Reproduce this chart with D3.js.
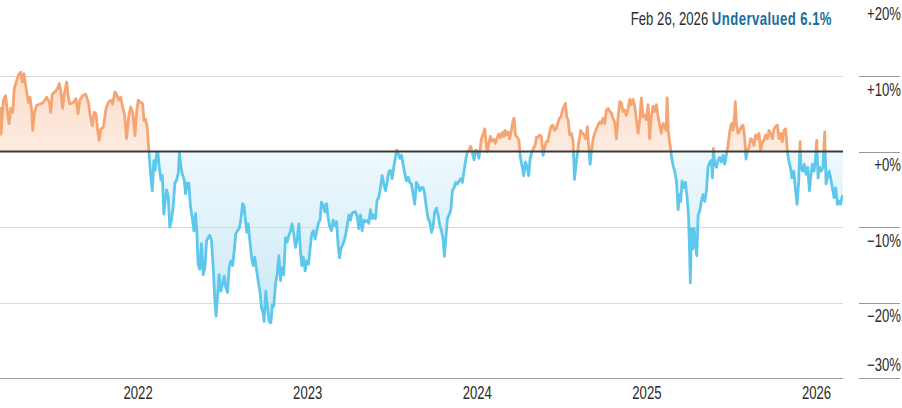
<!DOCTYPE html>
<html><head><meta charset="utf-8">
<script src="https://cdn.jsdelivr.net/npm/d3@7"></script>
<style>
html,body{margin:0;padding:0;background:#fff;}
svg{display:block;}
text{font-family:"Liberation Sans",Arial,sans-serif;}
</style></head><body>
<svg id="chart" width="902" height="408"></svg>
<script>
// decimal-year dates of each observation
const dates = [
2021.186,2021.192,2021.206,2021.219,2021.229,2021.239,2021.249,2021.261,2021.270,2021.284,2021.298,2021.308,2021.318,2021.327,2021.339,2021.353,2021.363,2021.373,2021.379,2021.388,2021.402,2021.422,2021.441,2021.461,2021.477,2021.485,2021.494,2021.510,2021.524,2021.536,2021.545,2021.555,2021.565,2021.579,2021.589,2021.598,2021.618,2021.634,2021.646,2021.657,2021.673,2021.691,2021.707,2021.716,2021.730,2021.742,2021.752,2021.762,2021.771,2021.781,2021.795,2021.811,2021.824,2021.838,2021.850,2021.864,2021.873,2021.885,2021.897,2021.909,2021.921,2021.932,2021.944,2021.956,2021.968,2021.982,2021.991,2022.001,2022.015,2022.027,2022.035,2022.044,2022.054,2022.064,2022.074,2022.084,2022.093,2022.101,2022.109,2022.117,2022.125,2022.135,2022.143,2022.152,
2022.158,2022.168,2022.178,2022.187,2022.197,2022.207,2022.217,2022.227,2022.237,2022.244,2022.252,2022.260,2022.272,2022.280,2022.290,2022.299,2022.309,2022.319,2022.329,2022.339,2022.347,2022.354,2022.364,2022.374,2022.384,2022.394,2022.404,2022.413,2022.423,2022.433,2022.443,2022.453,2022.460,2022.468,2022.478,2022.488,2022.498,2022.508,2022.517,2022.527,2022.537,2022.547,2022.557,2022.567,2022.576,2022.586,2022.596,2022.606,2022.616,2022.624,2022.633,2022.641,2022.649,2022.659,2022.669,2022.679,2022.688,2022.698,2022.708,2022.718,2022.728,2022.737,2022.743,2022.753,2022.763,2022.773,2022.783,2022.791,2022.800,2022.810,2022.820,2022.830,2022.840,2022.849,2022.859,2022.869,2022.879,2022.889,2022.899,2022.908,2022.918,2022.928,2022.938,2022.948,2022.957,2022.965,2022.975,2022.985,2022.995,2023.005,2023.014,2023.024,2023.034,2023.044,2023.054,2023.064,2023.073,2023.081,2023.091,2023.101,2023.111,2023.120,2023.130,2023.140,2023.150,
2023.160,2023.170,2023.180,2023.188,2023.195,2023.203,2023.213,2023.223,2023.233,2023.243,2023.252,2023.262,2023.272,2023.282,2023.292,2023.301,2023.311,2023.321,2023.331,2023.341,2023.351,2023.360,2023.370,2023.380,2023.390,2023.400,2023.409,2023.419,2023.429,2023.439,2023.449,2023.459,2023.468,2023.478,2023.488,2023.498,2023.508,2023.518,2023.525,2023.533,2023.543,2023.553,2023.563,2023.573,2023.582,2023.592,2023.602,2023.612,2023.622,2023.631,2023.641,2023.651,2023.661,2023.671,2023.681,2023.690,2023.700,2023.710,2023.720,2023.730,2023.739,2023.749,2023.759,2023.769,2023.779,2023.789,2023.798,2023.806,2023.814,2023.824,2023.834,2023.844,2023.853,2023.863,2023.873,2023.883,2023.893,2023.903,2023.912,2023.922,2023.932,2023.942,2023.952,2023.961,2023.971,2023.981,2023.991,2024.001,2024.009,2024.016,2024.024,2024.034,2024.044,2024.054,2024.060,2024.068,2024.077,2024.087,2024.097,2024.107,2024.117,2024.126,2024.136,2024.146,2024.156,
2024.162,2024.172,2024.182,2024.191,2024.201,2024.211,2024.217,2024.225,2024.235,2024.245,2024.254,2024.264,2024.274,2024.284,2024.294,2024.303,2024.311,2024.321,2024.331,2024.341,2024.349,2024.358,2024.368,2024.378,2024.388,2024.396,2024.406,2024.415,2024.425,2024.435,2024.445,2024.455,2024.464,2024.474,2024.484,2024.494,2024.502,2024.512,2024.520,2024.527,2024.535,2024.545,2024.555,2024.565,2024.573,2024.580,2024.590,2024.600,2024.610,2024.620,2024.630,2024.639,2024.649,2024.657,2024.665,2024.673,2024.683,2024.692,2024.702,2024.712,2024.722,2024.732,2024.741,2024.751,2024.761,2024.771,2024.781,2024.791,2024.800,2024.810,2024.820,2024.830,2024.840,2024.850,2024.859,2024.869,2024.879,2024.889,2024.899,2024.908,2024.918,2024.928,2024.938,2024.948,2024.958,2024.967,2024.977,2024.987,2024.997,2025.007,2025.016,2025.026,2025.036,2025.046,2025.056,2025.066,2025.075,2025.085,2025.095,2025.105,2025.113,2025.119,2025.126,2025.134,2025.144,2025.154,
2025.164,2025.174,2025.184,2025.192,2025.199,2025.207,2025.217,2025.227,2025.237,2025.245,2025.250,2025.256,2025.262,2025.270,2025.278,2025.286,2025.294,2025.302,2025.311,2025.321,2025.331,2025.341,2025.351,2025.360,2025.370,2025.380,2025.386,2025.392,2025.400,2025.410,2025.419,2025.429,2025.439,2025.449,2025.459,2025.468,2025.478,2025.488,2025.498,2025.508,2025.518,2025.521,2025.527,2025.537,2025.547,2025.557,2025.567,2025.576,2025.584,2025.592,2025.602,2025.612,2025.622,2025.631,2025.641,2025.651,2025.661,2025.671,2025.681,2025.690,2025.700,2025.710,2025.720,2025.730,2025.740,2025.749,2025.759,2025.769,2025.779,2025.789,2025.798,2025.808,2025.818,2025.828,2025.836,2025.846,2025.855,2025.865,2025.875,2025.885,2025.895,2025.903,2025.908,2025.918,2025.928,2025.938,2025.948,2025.958,2025.965,2025.975,2025.985,2025.993,2026.001,2026.009,2026.018,2026.028,2026.038,2026.048,2026.056,2026.064,2026.074,2026.083,2026.093,2026.103,2026.113,2026.123,2026.132,2026.142,2026.150,2026.156
];
// price vs fair value, percent (positive = overvalued)
const values = [
5.9,2.3,6.8,7.4,5.4,3.7,5.7,5.2,8.3,9.4,10.3,10.5,9.2,10.3,8.5,6.5,7.2,5.4,2.8,5.0,6.1,6.3,6.5,7.2,6.5,5.2,7.6,7.9,8.3,9.0,7.9,5.7,7.6,9.2,7.2,6.3,6.5,7.0,5.0,6.8,7.4,7.6,6.5,5.0,3.4,5.2,5.0,2.8,1.5,3.0,3.2,5.7,6.5,6.8,6.3,7.9,7.6,6.8,7.2,5.9,4.8,1.7,4.5,5.9,5.2,2.1,5.2,6.8,6.5,6.3,4.1,4.3,3.2,0,-3.0,-5.2,-1.2,-2.5,-0.3,-0.1,-2.1,-3.8,-3.2,-8.3,
-6.9,-5.1,-6.0,-10.0,-9.1,-7.3,-4.2,-3.8,-2.9,-0.2,-2.0,-2.9,-3.8,-5.6,-4.2,-4.2,-7.3,-8.7,-10.5,-8.2,-10.9,-14.9,-15.6,-12.2,-16.3,-15.4,-11.8,-11.4,-11.1,-11.8,-15.4,-19.8,-21.8,-19.4,-16.3,-18.5,-17.6,-16.5,-18.0,-18.7,-15.4,-14.5,-15.1,-13.1,-10.9,-10.5,-10.2,-9.1,-6.9,-7.1,-9.1,-10.7,-9.6,-11.8,-14.0,-15.1,-14.0,-15.6,-17.1,-18.5,-20.7,-21.4,-22.5,-18.5,-20.7,-22.5,-22.7,-20.3,-20.5,-17.6,-16.3,-13.8,-17.1,-15.4,-16.3,-11.4,-12.0,-11.1,-10.5,-9.6,-10.9,-12.7,-11.6,-9.6,-13.1,-15.1,-14.0,-15.8,-14.5,-14.9,-12.9,-10.9,-10.5,-11.6,-10.5,-9.4,-9.1,-6.7,-7.1,-8.0,-6.9,-8.7,-10.0,-10.5,-9.1,
-9.8,-9.3,-12.5,-14.1,-13.0,-12.5,-12.0,-11.1,-9.8,-8.4,-9.1,-8.2,-8.0,-8.0,-8.6,-10.2,-8.4,-10.5,-9.1,-9.3,-9.1,-9.5,-7.7,-8.9,-8.4,-8.9,-6.4,-6.1,-4.8,-3.2,-4.3,-5.2,-4.1,-2.7,-2.5,-3.6,-2.0,-0.7,0.2,-0.2,-0.9,-0.5,-1.8,-3.0,-3.9,-3.4,-4.1,-4.3,-5.7,-7.0,-4.1,-4.5,-5.2,-4.8,-4.8,-5.7,-7.5,-8.9,-9.3,-10.7,-10.0,-8.0,-7.5,-8.4,-9.8,-10.5,-11.6,-13.9,-11.6,-8.9,-8.4,-7.7,-5.2,-4.8,-4.1,-4.3,-3.9,-3.6,-4.1,-2.5,-1.1,0,0.2,0.7,-0.2,-1.1,0.2,0,-0.9,0.2,1.6,2.3,3.0,0.7,0,1.1,2.0,1.4,1.6,1.1,1.8,2.3,1.8,2.5,2.0,
2.8,2.2,2.6,1.7,2.8,4.2,4.4,2.2,1.9,1.5,-0.8,-1.9,-3.2,-1.4,-2.1,-3.2,-1.0,-0.1,0.4,0.8,1.9,1.9,2.2,1.9,-0.5,0.4,1.3,1.3,2.4,3.3,3.5,2.8,3.0,3.7,4.4,4.6,5.5,6.0,6.4,4.6,4.2,2.2,2.4,1.3,-3.7,-2.1,-0.3,1.5,2.8,2.4,2.2,1.7,3.3,0.6,-1.7,0.1,1.7,2.4,3.0,3.5,3.9,3.7,4.4,3.7,5.5,5.7,5.3,5.1,4.4,3.9,1.7,4.6,6.6,6.4,5.3,5.5,4.8,5.7,6.9,6.2,6.9,6.0,4.2,2.4,4.2,7.1,4.6,4.8,4.2,6.2,1.7,4.6,6.0,5.3,6.2,4.6,3.5,2.4,3.7,3.3,2.8,7.1,2.8,1.3,-0.5,-1.9,
-2.6,-3.9,-7.7,-5.7,-6.6,-3.9,-4.8,-4.1,-6.1,-8.4,-12.0,-17.4,-10.2,-12.9,-10.2,-12.4,-13.8,-8.4,-7.9,-6.6,-5.7,-6.6,-5.2,-2.1,-1.4,-1.2,-3.5,0.4,-1.7,-2.1,-1.2,-0.8,-1.4,-0.5,-1.7,-0.5,0.8,2.6,3.7,2.8,5.1,6.6,3.7,2.4,2.8,3.3,3.5,1.9,-1.0,0.1,0.6,1.7,1.5,0.8,2.2,1.7,2.4,0.1,1.3,1.5,2.2,1.7,2.8,2.4,1.7,3.0,3.3,3.5,1.7,2.4,1.3,2.8,3.0,0.1,-1.2,-2.1,-3.5,-2.6,-4.8,-7.0,-3.9,1.3,-2.1,-2.6,-1.7,-3.0,-2.1,-5.2,-3.5,-1.7,-2.6,-1.2,1.5,-3.5,-2.1,-2.6,-2.1,2.6,-4.3,-3.5,-2.6,-3.5,-4.8,-6.1,-4.8,-7.0,-6.6,-7.0,-6.1,-5.8
];
const yearTicks = [2022, 2023, 2024, 2025, 2026];
const pctTicks = [20, 10, 0, -10, -20, -30];
const pctLabels = ["+20%", "+10%", "+0%", "\u221210%", "\u221220%", "\u221230%"];
const gridValues = [10, -10, -20];
const headerDate = "Feb 26, 2026 ";
const headerStatus = "Undervalued 6.1%";

const n = Math.min(dates.length, values.length);
const data = d3.range(n).map(i => ({t: dates[i], v: values[i]}));

const svg = d3.select("#chart");
const plotRight = 843, plotBottom = 378;
const x = d3.scaleLinear().domain([dates[0], dates[n - 1]]).range([0, plotRight]);
const y = d3.scaleLinear().domain([-30, 20]).range([plotBottom, 0.5]);
const y0 = y(0);
const squeeze = 0.73; // condensed type

const defs = svg.append("defs");
defs.append("clipPath").attr("id", "above").append("rect")
  .attr("x", 0).attr("y", 0).attr("width", plotRight).attr("height", y0);
defs.append("clipPath").attr("id", "below").append("rect")
  .attr("x", 0).attr("y", y0).attr("width", plotRight).attr("height", plotBottom - y0);

const gBlue = defs.append("linearGradient").attr("id", "gBlue")
  .attr("gradientUnits", "userSpaceOnUse").attr("x1", 0).attr("x2", 0)
  .attr("y1", y0).attr("y2", y(-23));
gBlue.append("stop").attr("offset", 0).attr("stop-color", "#eef9fd");
gBlue.append("stop").attr("offset", 1).attr("stop-color", "#c9e8f5");
const gOrange = defs.append("linearGradient").attr("id", "gOrange")
  .attr("gradientUnits", "userSpaceOnUse").attr("x1", 0).attr("x2", 0)
  .attr("y1", y0).attr("y2", y(11));
gOrange.append("stop").attr("offset", 0).attr("stop-color", "#fdebe0");
gOrange.append("stop").attr("offset", 1).attr("stop-color", "#fbdcc8");

const area = d3.area().x(d => x(d.t)).y0(y0).y1(d => y(d.v));
const line = d3.line().x(d => x(d.t)).y(d => y(d.v));

svg.append("path").datum(data).attr("d", area).attr("fill", "url(#gOrange)").attr("clip-path", "url(#above)");
svg.append("path").datum(data).attr("d", area).attr("fill", "url(#gBlue)").attr("clip-path", "url(#below)");

// gridlines
svg.append("g").selectAll("line").data(gridValues).join("line")
  .attr("x1", 0).attr("x2", plotRight)
  .attr("y1", d => Math.round(y(d)) + 0.5).attr("y2", d => Math.round(y(d)) + 0.5)
  .attr("stroke", "#d9d9d9").attr("stroke-width", 1);

// bottom axis line
svg.append("line").attr("x1", 0).attr("x2", plotRight)
  .attr("y1", Math.round(plotBottom) + 0.5).attr("y2", Math.round(plotBottom) + 0.5)
  .attr("stroke", "#9a9a9a").attr("stroke-width", 1);

// series lines
svg.append("path").datum(data).attr("d", line).attr("fill", "none")
  .attr("stroke", "#f4a571").attr("stroke-width", 2.8).attr("stroke-linejoin", "round")
  .attr("clip-path", "url(#above)");
svg.append("path").datum(data).attr("d", line).attr("fill", "none")
  .attr("stroke", "#5ec8ec").attr("stroke-width", 2.8).attr("stroke-linejoin", "round")
  .attr("clip-path", "url(#below)");

// zero line
svg.append("line").attr("x1", 0).attr("x2", plotRight).attr("y1", y0).attr("y2", y0)
  .attr("stroke", "#3b3b3b").attr("stroke-width", 2);

// right axis ticks and labels
const rAxis = svg.append("g");
rAxis.selectAll("line").data(pctTicks.filter(d => y(d) > 3)).join("line")
  .attr("x1", 859).attr("x2", 900)
  .attr("y1", d => Math.round(y(d)) + 0.5).attr("y2", d => Math.round(y(d)) + 0.5)
  .attr("stroke", "#9a9a9a").attr("stroke-width", 1);
rAxis.selectAll("text").data(pctTicks).join("text")
  .attr("transform", (d, i) => `translate(901,${i === pctTicks.length - 1 ? y(d) - 7 : y(d) + 19.5}) scale(${squeeze},1)`)
  .attr("text-anchor", "end").attr("font-size", 18).attr("fill", "#2b2b2b")
  .text((d, i) => pctLabels[i]);

// x axis labels
svg.append("g").selectAll("text").data(yearTicks).join("text")
  .attr("transform", d => `translate(${x(d)},399) scale(${squeeze},1)`)
  .attr("text-anchor", "middle").attr("font-size", 18).attr("fill", "#2b2b2b")
  .text(d => d3.format("d")(d));

// header
const hdr = svg.append("text").attr("transform", `translate(832,25) scale(${squeeze},1)`)
  .attr("text-anchor", "end").attr("font-size", 18);
hdr.append("tspan").attr("fill", "#2b2b2b").text(headerDate);
hdr.append("tspan").attr("fill", "#1a6d9d").attr("font-weight", "bold")
  .attr("letter-spacing", 0.6).text(headerStatus);
</script>
</body></html>
